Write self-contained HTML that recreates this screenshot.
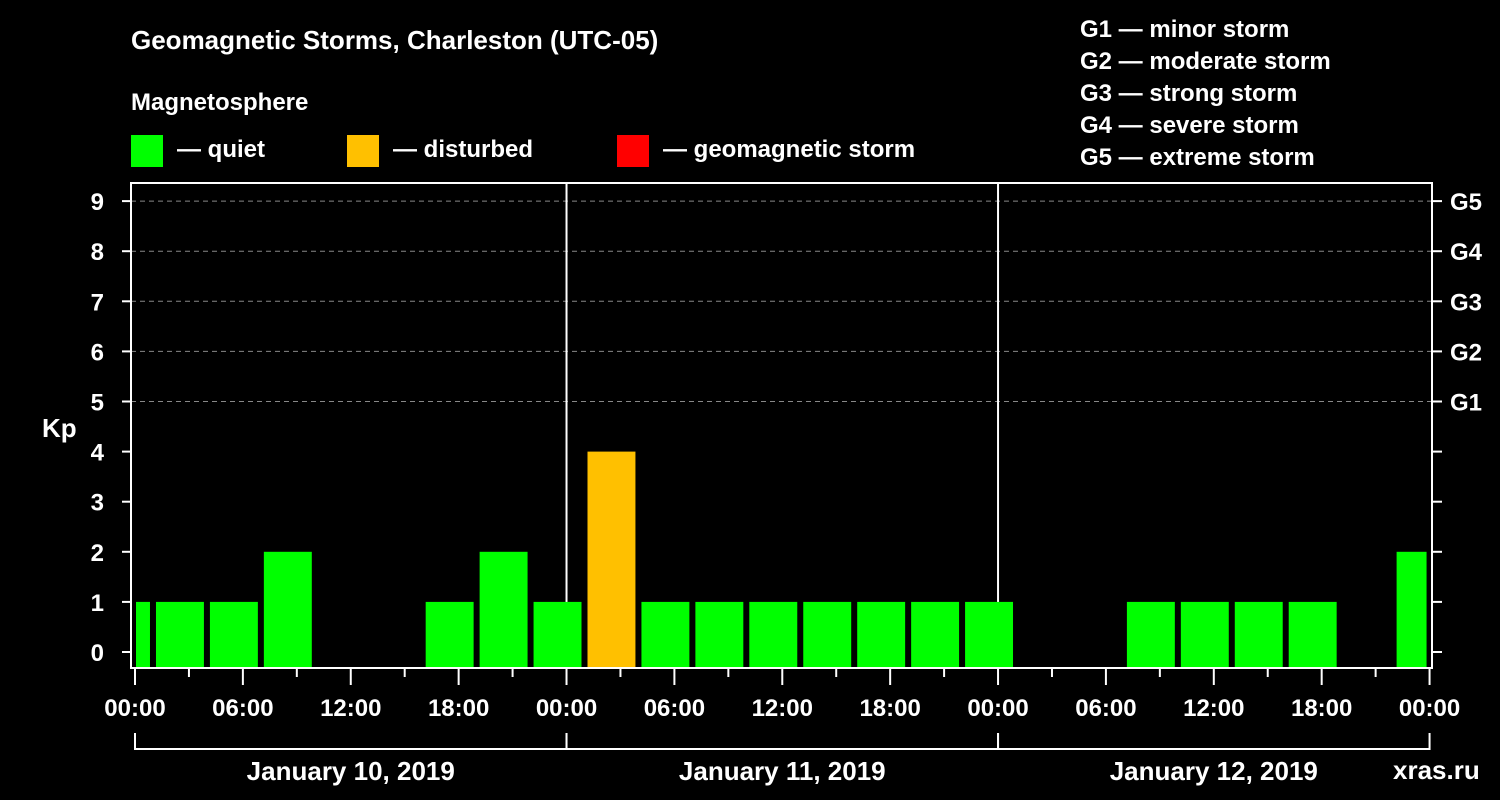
<!DOCTYPE html>
<html><head><meta charset="utf-8"><style>
html,body{margin:0;padding:0;background:#000;}
svg{display:block;font-family:"Liberation Sans",Arial,sans-serif;font-weight:bold;}
</style></head><body>
<svg id="chart" width="1500" height="800" viewBox="0 0 1500 800" xmlns="http://www.w3.org/2000/svg">
<rect width="1500" height="800" fill="#000"/>
<text x="131" y="49" fill="#fff" font-size="26">Geomagnetic Storms, Charleston (UTC-05)</text>
<text x="131" y="110" fill="#fff" font-size="24">Magnetosphere</text>
<g><rect x="131" y="135" width="32" height="32" fill="#00ff00"/><text x="177" y="157" fill="#fff" font-size="24">— quiet</text></g>
<g><rect x="347" y="135" width="32" height="32" fill="#ffc000"/><text x="393" y="157" fill="#fff" font-size="24">— disturbed</text></g>
<g><rect x="617" y="135" width="32" height="32" fill="#ff0000"/><text x="663" y="157" fill="#fff" font-size="24">— geomagnetic storm</text></g>
<g fill="#fff" font-size="24">
<text x="1080" y="37">G1 — minor storm</text>
<text x="1080" y="69">G2 — moderate storm</text>
<text x="1080" y="101">G3 — strong storm</text>
<text x="1080" y="133">G4 — severe storm</text>
<text x="1080" y="165">G5 — extreme storm</text>
</g>
<g id="grid"></g>
<g id="bars"></g>
<g id="axes"></g>
<text x="42" y="437" fill="#fff" font-size="26">Kp</text>
<text x="1393" y="779" fill="#fff" font-size="26">xras.ru</text>
</svg>
<script>
const kpValues = [1,1,1,2,null,null,1,2,1, 4,1,1,1,1,1,1,1, null,null,1,1,1,1,null,2];
const blockStartHours = [-2,1,4,7,10,13,16,19,22, 25,28,31,34,37,40,43,46, 49,52,55,58,61,64,67,70];
const dayLabels = ["January 10, 2019","January 11, 2019","January 12, 2019"];
const hourTickLabels = ["00:00","06:00","12:00","18:00"];
const gLabels = ["G1","G2","G3","G4","G5"];

const NS="http://www.w3.org/2000/svg";
const L=131,R=1432,T=183,B=668,X0=135,PXH=17.98;
const x=h=>X0+h*PXH;
const y=k=>652-k*50.1;
function mk(tag,attrs,parent){const e=document.createElementNS(NS,tag);for(const k in attrs)e.setAttribute(k,attrs[k]);parent.appendChild(e);return e;}
const grid=document.getElementById('grid'),bars=document.getElementById('bars'),axes=document.getElementById('axes');
for(let k=0;k<=9;k++){
  if(k>=5){const g=mk('line',{x1:L,x2:R,y1:y(k),y2:y(k),stroke:'#888','stroke-dasharray':'5,4','stroke-width':1},grid);
  
  }
  const t=mk('line',{x1:122,x2:L,y1:y(k),y2:y(k),stroke:'#fff','stroke-width':2},axes);
  
  
  const t2=mk('line',{x1:R,x2:1442,y1:y(k),y2:y(k),stroke:'#fff','stroke-width':2},axes);
  
  
  const lb=mk('text',{x:104,y:y(k)+9,fill:'#fff','font-size':24,'text-anchor':'end'},axes);lb.textContent=k;
  
  
}
gLabels.forEach((g,i)=>{const t=mk('text',{x:1450,y:y(i+5)+9,fill:'#fff','font-size':24},axes);t.textContent=g;
  
  });
kpValues.forEach((v,i)=>{
  if(v===null)return;
  let a=x(blockStartHours[i])+3,b=x(blockStartHours[i]+3)-3;
  a=Math.max(a,X0+1);b=Math.min(b,x(72)-3);
  const c=v>=5?'#ff0000':(v>=4?'#ffc000':'#00ff00');
  const r=mk('rect',{x:a,y:y(v),width:b-a,height:B-y(v),fill:c},bars);
  
  
});
for(let d=1;d<3;d++){const l=mk('line',{x1:x(24*d),x2:x(24*d),y1:T,y2:B,stroke:'#fff','stroke-width':2},grid);
  
  }
const frame=mk('rect',{x:L,y:T,width:R-L,height:B-T,fill:'none',stroke:'#fff','stroke-width':2},axes);


for(let h=0;h<=72;h+=3){
  const major=h%6===0;
  const t=mk('line',{x1:x(h),x2:x(h),y1:B,y2:major?(h%24===0?685:685):677,stroke:'#fff','stroke-width':2},axes);
  
  
  if(major){const lb=mk('text',{x:x(h),y:716,fill:'#fff','font-size':24,'text-anchor':'middle'},axes);
    lb.textContent=hourTickLabels[(h%24)/6];
    
    }
}
dayLabels.forEach((d,i)=>{
  const a=x(24*i),b=x(24*(i+1));
  const p=mk('path',{d:`M${a},733V749H${b}V733`,fill:'none',stroke:'#fff','stroke-width':2},axes);
  
  
  const t=mk('text',{x:(a+b)/2,y:780,fill:'#fff','font-size':26,'text-anchor':'middle'},axes);t.textContent=d;
  
  
});
</script>
</body></html>
